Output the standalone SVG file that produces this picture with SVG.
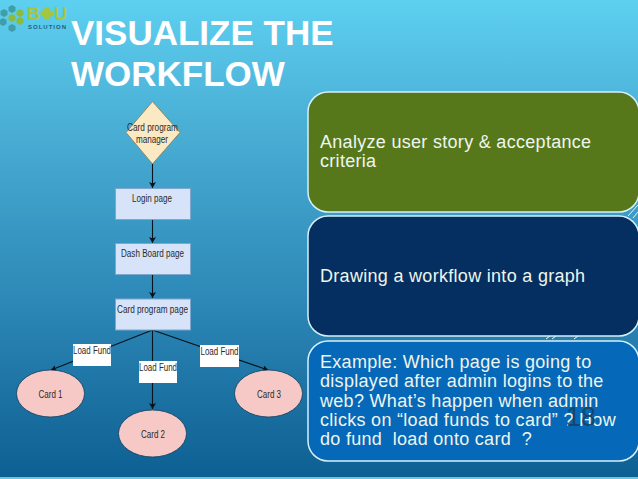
<svg xmlns="http://www.w3.org/2000/svg" width="638" height="479" viewBox="0 0 638 479">
<defs>
<linearGradient id="bg" x1="0" y1="0" x2="0" y2="1">
<stop offset="0" stop-color="#5dd0f0"/><stop offset="0.25" stop-color="#4bb0d6"/><stop offset="0.6" stop-color="#2f8bb9"/><stop offset="1" stop-color="#0d5f92"/>
</linearGradient>
<marker id="arr" markerWidth="7" markerHeight="7" refX="5.500" refY="3" orient="auto" markerUnits="userSpaceOnUse"><path d="M0 0L6 3L0 6L1.400 3Z" fill="#06121c"/></marker>
<marker id="arrBig" markerWidth="7" markerHeight="8" refX="6" refY="3.500" orient="auto" markerUnits="userSpaceOnUse"><path d="M0 0L6 3.500L0 7L1.400 3.500Z" fill="#06121c"/></marker>
<path id="hx" d="M0 -4L3.500 -2V2L0 4L-3.500 2V-2Z"/>
</defs>
<style>
text{font-family:"Liberation Sans",Arial,sans-serif}
.title{font-size:35px;font-weight:700;fill:#fff}
.panel{stroke:#d5f0f8;stroke-width:1.500}
.pt{font-size:18px;letter-spacing:.3px;fill:#eef5ee}
.page{fill:#d6e3f8;stroke:#7fa6cc;stroke-width:1}
.lab{font-size:10px;fill:#2a2a2a;text-anchor:middle}
.fund{fill:#fff}
.card{fill:#f7c9c6;stroke:#123c5c;stroke-width:.8}
.edge{stroke:#06121c;stroke-width:1.100;fill:none}
.teal{fill:#3f9ea8}
.lime{fill:#8dbb3d}
</style>
<rect width="638" height="479" fill="url(#bg)"/>
<rect y="477" width="638" height="2" fill="#6fc4e2"/>
<g id="logo">
<use href="#hx" class="teal" x="12" y="9"/><use href="#hx" class="lime" x="20" y="13"/><use href="#hx" class="teal" x="4" y="13"/>
<use href="#hx" class="lime" x="20" y="21"/><use href="#hx" class="teal" x="3" y="22"/><use href="#hx" class="lime" x="12" y="18"/><use href="#hx" class="teal" x="12" y="28"/>
<text x="27" y="20" font-size="18" font-weight="700" fill="#a5c63b">B</text>
<g fill="#a5c63b"><circle cx="47" cy="10" r="3"/><circle cx="47" cy="17" r="3"/><circle cx="43.500" cy="13.500" r="3"/><circle cx="50.500" cy="13.500" r="3"/></g>
<text x="54" y="20" font-size="18" font-weight="700" fill="#a5c63b">U</text>
<text x="28" y="29" font-size="6" font-weight="700" letter-spacing="1" fill="#1f5f80">SOLUTION</text>
</g>
<g id="title"><text class="title" x="71" y="45">VISUALIZE THE</text><text class="title" x="71" y="86">WORKFLOW</text></g>
<g id="connectors">
<path class="edge" marker-end="url(#arrBig)" d="M152.500 164V188"/>
<path class="edge" marker-end="url(#arrBig)" d="M152.500 220V243"/>
<path class="edge" marker-end="url(#arrBig)" d="M152.500 275V298"/>
<path class="edge" marker-end="url(#arr)" d="M152.500 330L51 370"/>
<path class="edge" marker-end="url(#arrBig)" d="M152.500 330V409"/>
<path class="edge" marker-end="url(#arr)" d="M152.500 330L268 370"/>
</g>
<g id="manager"><path d="M152.500 101.500L180 132.500L152.500 164L126 132.500Z" fill="#fbe9c3" stroke="#8a8a62"/><text class="lab" x="152.500" y="131" textLength="51" lengthAdjust="spacingAndGlyphs">Card program</text><text class="lab" x="152" y="142.500" textLength="32" lengthAdjust="spacingAndGlyphs">manager</text></g>
<g id="login"><rect class="page" x="115.500" y="188.500" width="75" height="31"/><text class="lab" x="152" y="202" textLength="40" lengthAdjust="spacingAndGlyphs">Login page</text></g>
<g id="dashboard"><rect class="page" x="115.500" y="243.500" width="75" height="31"/><text class="lab" x="152.500" y="257" textLength="63" lengthAdjust="spacingAndGlyphs">Dash Board page</text></g>
<g id="cardprogram"><rect class="page" x="115.500" y="299" width="75" height="31"/><text class="lab" x="152.500" y="313" textLength="71" lengthAdjust="spacingAndGlyphs">Card program page</text></g>
<g id="fund1"><rect class="fund" x="73" y="344" width="38" height="22"/><text class="lab" x="92" y="353.500" textLength="38" lengthAdjust="spacingAndGlyphs">Load Fund</text></g>
<g id="fund2"><rect class="fund" x="139" y="361" width="38" height="22"/><text class="lab" x="158" y="370.500" textLength="38" lengthAdjust="spacingAndGlyphs">Load Fund</text></g>
<g id="fund3"><rect class="fund" x="200" y="345" width="39" height="22"/><text class="lab" x="219.500" y="354.500" textLength="38" lengthAdjust="spacingAndGlyphs">Load Fund</text></g>
<g id="card1"><ellipse class="card" cx="50.500" cy="393.500" rx="34" ry="23.500"/><text class="lab" x="50.500" y="397.500" textLength="24" lengthAdjust="spacingAndGlyphs">Card 1</text></g>
<g id="card2"><ellipse class="card" cx="152.500" cy="433.500" rx="34" ry="23.500"/><text class="lab" x="153" y="437.500" textLength="24" lengthAdjust="spacingAndGlyphs">Card 2</text></g>
<g id="card3"><ellipse class="card" cx="268.500" cy="393.500" rx="34" ry="23.500"/><text class="lab" x="269" y="397.500" textLength="24" lengthAdjust="spacingAndGlyphs">Card 3</text></g>
<g id="swoosh" stroke="#e8f6fb" stroke-width="1" fill="none"><path d="M628 216L638 205M633 218L638 212M546 339L550 336M552 339L556 336M574 339L578 336"/></g>
<g id="panel1"><rect class="panel" x="308" y="92" width="331" height="120" rx="20" fill="#56781b"/><text class="pt" x="320" y="148">Analyze user story &amp; acceptance</text><text class="pt" x="320" y="167">criteria</text></g>
<g id="panel2"><rect class="panel" x="308" y="216" width="331" height="120" rx="20" fill="#042f60"/><text class="pt" x="320" y="282">Drawing a workflow into a graph</text></g>
<g id="panel3"><rect class="panel" x="308" y="341" width="331" height="120" rx="20" fill="#0668b8"/>
<text class="pt" x="320" y="368">Example: Which page is going to</text>
<text class="pt" x="320" y="387">displayed after admin logins to the</text>
<text class="pt" x="320" y="407">web? What’s happen when admin</text>
<text class="pt" x="320" y="426">clicks on “load funds to card” ? How</text>
<text class="pt" x="320" y="445" xml:space="preserve">do fund  load onto card  ?</text></g>
<text x="566" y="426" font-size="27" fill="#14466e">18</text>
</svg>
